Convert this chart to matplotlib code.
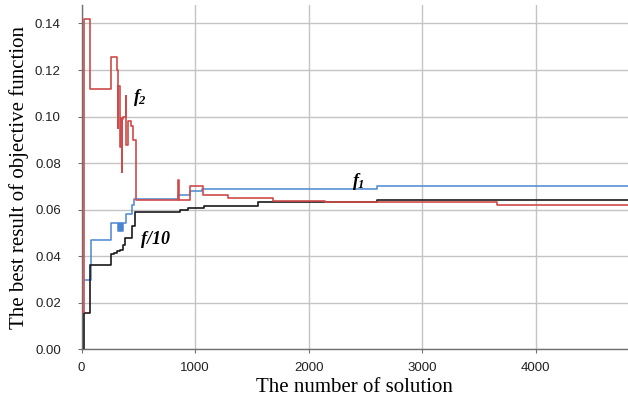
import numpy as np
import matplotlib
matplotlib.use('Agg')
import matplotlib.pyplot as plt

plt.rcParams['mathtext.fontset'] = 'custom'
plt.rcParams['mathtext.it'] = 'Liberation Serif:italic:bold'
plt.rcParams['mathtext.rm'] = 'Liberation Serif:italic:bold'

# f2 (red) step curve: solution number, best value
f2_x = [0, 20, 22, 72, 260, 310, 318, 324, 342, 343, 357, 358, 368, 389, 390, 407, 433, 451, 480,
        853, 855, 870, 956, 1068, 1290, 1687, 2145, 2762, 3658, 4815]
f2_y = [0.016, 0.016, 0.142, 0.112, 0.1255, 0.1198, 0.0952, 0.113, 0.087, 0.0995, 0.076, 0.099, 0.100,
        0.1087, 0.088, 0.098, 0.0958, 0.0898, 0.064,
        0.0729, 0.064, 0.064, 0.070, 0.0662, 0.065, 0.0639, 0.0633, 0.0632, 0.0619, 0.0619]

# f1 (blue)
f1_x = [31, 81, 257, 318, 327, 336, 345, 354, 362, 392, 442, 463, 853, 956, 1065, 2600, 4815]
f1_y = [0.030, 0.0471, 0.0543, 0.051, 0.0543, 0.051, 0.0543, 0.051, 0.0543, 0.0581, 0.0622,
        0.0647, 0.0662, 0.0682, 0.0689, 0.0700, 0.0700]

# f/10 (black)
f10_x = [22, 25, 75, 257, 289, 310, 339, 363, 383, 448, 471, 868, 941, 1074, 1552, 2600, 4815]
f10_y = [0.0, 0.0158, 0.0363, 0.041, 0.0415, 0.0421, 0.0428, 0.045, 0.0478, 0.0528, 0.059, 0.0597,
         0.0607, 0.0614, 0.0633, 0.0640, 0.0640]

fig = plt.figure(figsize=(6.28, 4.03), dpi=100)
ax = fig.add_axes([0.13, 0.133, 0.87, 0.855])

ax.step(f10_x, f10_y, where='post', color='#1a1a1a', lw=1.2, zorder=3)
ax.step(f2_x, f2_y, where='post', color='#d04a4a', lw=1.2, zorder=4)
ax.step(f1_x, f1_y, where='post', color='#4a86d0', lw=1.1, zorder=2)

ax.set_xlim(0, 4815)
ax.set_ylim(0, 0.148)
ax.set_xticks([0, 1000, 2000, 3000, 4000])
ax.set_yticks(np.arange(0, 0.141, 0.02))
ax.set_yticklabels(['%.2f' % v for v in np.arange(0, 0.141, 0.02)])
ax.grid(True, color='#c4c4c4', lw=1.0)
ax.set_axisbelow(True)
for s in ['top', 'right']:
    ax.spines[s].set_visible(False)
for s in ['left', 'bottom']:
    ax.spines[s].set_color('#707070')
    ax.spines[s].set_linewidth(1.0)
ax.tick_params(axis='both', length=3, color='#707070', labelsize=9.5, labelcolor='#222222')
ax.tick_params(axis='y', pad=12)
ax.tick_params(axis='x', pad=6)
for lab in ax.get_xticklabels() + ax.get_yticklabels():
    lab.set_family('Liberation Sans')

ax.set_xlabel('The number of solution', family='Liberation Serif', fontsize=15, labelpad=3)
ax.set_ylabel('The best result of objective function', family='Liberation Serif', fontsize=15,
              labelpad=4)

ax.text(454, 0.1082, r'$f_{2}$', fontsize=13, va='center', ha='left')
ax.text(2381, 0.072, r'$f_{1}$', fontsize=13, va='center', ha='left')
ax.text(524, 0.0474, 'f/10', family='Liberation Serif', style='italic', weight='bold',
        fontsize=13, va='center', ha='left')

fig.savefig('out.png', dpi=100)
